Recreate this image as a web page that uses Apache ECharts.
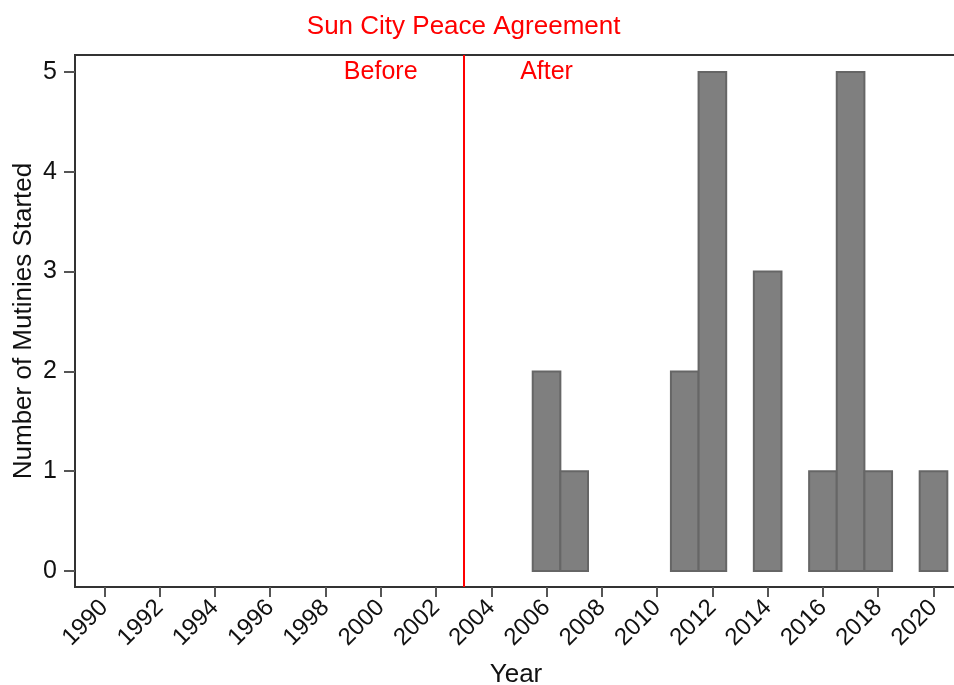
<!DOCTYPE html>
<html>
<head>
<meta charset="utf-8">
<script src="https://cdn.jsdelivr.net/npm/echarts@6/dist/echarts.min.js"></script>
<style>
  html, body { margin: 0; padding: 0; background: #fff; }
  #chart { width: 954px; height: 685px; }
</style>
</head>
<body>
<div id="chart"></div>
<script>
// mutinies started per year (years with none are left out)
var years = [2006, 2007, 2011, 2012, 2014, 2016, 2017, 2018, 2020];
var mutinies = [2, 1, 2, 5, 3, 1, 5, 1, 1];
var xTicks = [1990, 1992, 1994, 1996, 1998, 2000, 2002, 2004, 2006, 2008, 2010, 2012, 2014, 2016, 2018, 2020];
var yTicks = [0, 1, 2, 3, 4, 5];
var agreementYear = 2003;

var FONT = '"Liberation Sans", Arial, sans-serif';
var chart = echarts.init(document.getElementById('chart'));

var barData = years.map(function (y, i) { return [y, mutinies[i]]; });

chart.setOption({
  animation: false,
  grid: {
    left: 75, right: -3, top: 55, bottom: 98,
    outerBoundsMode: 'none', containLabel: false,
    show: true, borderColor: '#333', borderWidth: 2
  },
  xAxis: {
    type: 'value',
    min: 1988.94, max: 2020.85,
    name: 'Year', nameLocation: 'middle', nameGap: 75, nameMoveOverlap: false,
    nameTextStyle: { fontFamily: FONT, fontSize: 26, color: '#111' },
    splitLine: { show: false },
    axisLine: { onZero: false, lineStyle: { color: '#333', width: 2 } },
    axisTick: { customValues: xTicks, length: 10, lineStyle: { color: '#555', width: 2 } },
    axisLabel: {
      customValues: xTicks, rotate: 45, margin: 17,
      fontFamily: FONT, fontSize: 24, color: '#111',
      formatter: function (v) { return String(v); }
    }
  },
  yAxis: {
    type: 'value',
    min: -0.16, max: 5.17,
    name: 'Number of Mutinies Started', nameLocation: 'middle', nameGap: 38, nameMoveOverlap: false,
    nameTextStyle: { fontFamily: FONT, fontSize: 26, color: '#111' },
    splitLine: { show: false },
    axisLine: { onZero: false, lineStyle: { color: '#333', width: 2 } },
    axisTick: { customValues: yTicks, length: 11, lineStyle: { color: '#555', width: 2 } },
    axisLabel: {
      customValues: yTicks, margin: 18,
      fontFamily: FONT, fontSize: 25, color: '#111'
    }
  },
  series: [{
    type: 'custom',
    data: barData,
    renderItem: function (params, api) {
      var x = api.value(0), v = api.value(1);
      var p0 = api.coord([x - 0.5, v]);
      var p1 = api.coord([x + 0.5, 0]);
      return {
        type: 'rect',
        shape: { x: p0[0], y: p0[1], width: p1[0] - p0[0], height: p1[1] - p0[1] },
        style: { fill: '#7f7f7f', stroke: '#666', lineWidth: 2 }
      };
    },
    markLine: {
      silent: true,
      symbol: 'none',
      lineStyle: { color: '#ff0000', width: 2, type: 'solid' },
      label: {
        show: true, position: 'end', distance: 15,
        formatter: 'Sun City Peace Agreement',
        fontFamily: FONT, fontSize: 26, color: '#ff0000'
      },
      data: [{ xAxis: agreementYear }]
    }
  }]
});

// "Before" / "After" labels either side of the line, level with y = 5
var before = chart.convertToPixel({ gridIndex: 0 }, [2000, 5]);
var after = chart.convertToPixel({ gridIndex: 0 }, [2006, 5]);
chart.setOption({
  graphic: [
    { type: 'text', x: before[0], y: before[1], style: { text: 'Before', fontFamily: FONT, fontSize: 25, fill: '#ff0000', align: 'center', verticalAlign: 'middle' } },
    { type: 'text', x: after[0], y: after[1], style: { text: 'After', fontFamily: FONT, fontSize: 25, fill: '#ff0000', align: 'center', verticalAlign: 'middle' } }
  ]
});
</script>
</body>
</html>
